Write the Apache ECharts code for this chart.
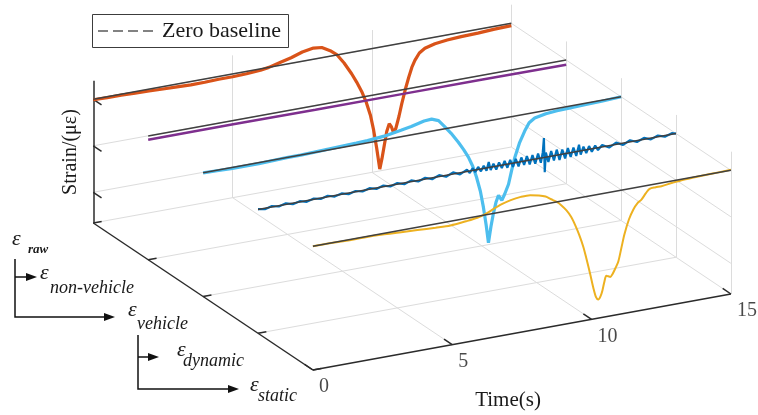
<!DOCTYPE html>
<html>
<head>
<meta charset="utf-8">
<script src="https://cdn.jsdelivr.net/npm/echarts@6/dist/echarts.min.js"></script>
<style>html,body{margin:0;padding:0;background:#fff}#c{width:758px;height:415px}</style>
</head>
<body>
<div id="c"></div>
<script>
// ---------------- data ----------------
const depthKeys = ['raw', 'non-vehicle', 'vehicle', 'dynamic', 'static'];
const timeTicks = [0, 5, 10, 15];
const strainTicks = [-100, -50, 0];
const timeRange = [0, 15];
const strainRange = [-133, 20];

// [time (s), strain (με)]
const rawStrain = [[0,-0.5],[0.5,-1],[1,-1],[1.5,-1.5],[2,-2],[2.5,-2.5],[3,-3],[3.5,-3.5],[4,-3.5],[4.5,-3],[5,-3],[5.5,-2.5],[6,-1.5],[6.3,0],[6.7,3],[7.1,6],[7.5,10],[7.9,12],[8.2,11],[8.5,6],[8.75,0],[9.0,-10],[9.27,-23],[9.45,-33],[9.63,-44],[9.8,-57],[9.95,-72],[10.06,-88],[10.17,-108],[10.28,-131],[10.36,-120],[10.45,-105],[10.53,-92],[10.62,-84],[10.7,-88],[10.78,-95],[10.86,-90],[10.97,-78],[11.07,-65],[11.2,-50],[11.32,-38],[11.43,-28],[11.54,-21],[11.7,-14],[11.9,-10],[12.26,-7],[12.7,-5.5],[13.2,-4.5],[13.8,-4],[14.4,-3],[15,-2.5]];
const nonVehicleStrain = [[0,-4],[3,-4],[6,-4.5],[9,-4.5],[12,-4.5],[15,-5]];
const vehicleStrain = [[0,0],[0.5,-0.5],[1,-1],[1.5,-1],[2,-1],[2.5,-0.5],[3,0],[3.5,0],[4,0.5],[4.5,1],[5,1.5],[5.5,2],[5.9,2.5],[6.5,4],[7.1,7],[7.47,9],[7.93,12.5],[8.2,13],[8.45,10],[8.65,3],[8.9,-6],[9.16,-17],[9.35,-26],[9.52,-35],[9.68,-46],[9.81,-58],[9.95,-74],[10.06,-92],[10.16,-112],[10.24,-131],[10.33,-114],[10.42,-100],[10.51,-89],[10.6,-82],[10.66,-85],[10.72,-88],[10.82,-82],[10.96,-72],[11.07,-58],[11.18,-45],[11.35,-30],[11.54,-18],[11.7,-10],[11.9,-6],[12.3,-3.5],[12.7,-2.5],[13.13,-2],[13.7,-1.5],[14.3,-1],[15,0]];
const dynamicStrain = [[0,0.5],[0.25,-1],[0.5,1],[0.75,-0.8],[1,1.2],[1.25,-1],[1.5,0.8],[1.75,-1.2],[2,1],[2.25,-0.8],[2.5,1.2],[2.75,-1],[3,1],[3.25,-1.2],[3.5,0.9],[3.75,-1],[4,1.2],[4.25,-1],[4.5,1.3],[4.75,-1.1],[5,1.2],[5.25,-1.3],[5.5,1.4],[5.75,-1.2],[6,1.5],[6.25,-1.4],[6.5,1.6],[6.75,-1.5],[7,1.8],[7.25,-1.7],[7.5,2],[7.6,-2],[7.7,2.5],[7.8,-2.2],[7.9,2.8],[8.0,-2.5],[8.1,3],[8.2,-2.8],[8.28,6],[8.35,-3],[8.45,3.2],[8.55,-3.5],[8.65,3.5],[8.75,-3],[8.85,4],[8.95,-3.8],[9.05,4],[9.15,-4],[9.25,4.2],[9.35,-4.5],[9.45,4.5],[9.55,-4],[9.65,5],[9.75,-4.5],[9.85,5],[9.95,-5],[10.05,5.5],[10.15,-5],[10.22,6],[10.26,21],[10.29,-16],[10.33,5],[10.42,-5.5],[10.52,5.5],[10.62,-5],[10.72,6],[10.82,-5.5],[10.92,5],[11.02,-5],[11.12,5.5],[11.22,-4.5],[11.32,5],[11.42,-4.5],[11.52,7],[11.58,-4],[11.68,4],[11.78,-3.5],[11.88,3.5],[11.98,-3],[12.1,3],[12.2,-2.5],[12.35,2.2],[12.6,-2],[12.85,2],[13.1,-1.8],[13.35,1.8],[13.6,-1.5],[13.85,1.6],[14.1,-1.4],[14.35,1.4],[14.6,-1.2],[14.85,1.2],[15,0]];
const staticStrain = [[0,0],[0.6,0],[1.2,-0.5],[1.8,-0.5],[2.5,-1],[3.1,-2],[3.75,-3],[4.4,-4],[4.94,-4.5],[5.5,-3],[5.9,-1.5],[6.2,1],[6.5,5],[6.74,8],[7.1,11],[7.46,12.5],[7.8,12.5],[8.11,10.5],[8.35,8],[8.55,4],[8.75,0],[8.9,-4],[9.1,-11],[9.27,-19],[9.42,-29],[9.56,-40],[9.7,-53],[9.81,-66],[9.95,-84],[10.06,-99],[10.16,-110],[10.24,-113],[10.32,-110],[10.39,-104],[10.46,-95],[10.53,-89],[10.6,-90],[10.67,-91],[10.74,-89],[10.85,-83],[10.96,-76],[11.07,-62],[11.18,-48],[11.34,-33],[11.5,-23],[11.65,-17],[11.79,-14],[11.95,-8],[12.08,-4],[12.3,-3.5],[12.51,-3.5],[12.9,-2],[13.23,-1],[13.7,-0.5],[14.3,0],[15,0.5]];
const zeroBaseline = [[0,0],[15,0]];

// ---------------- projection of the oblique 3-D box ----------------
const BOX = { origin: [93.3, 223], tStep: [418 / 15, -76 / 15], kStep: [54.9, 36.75], zPx: 142.3 };
function proj(t, k, s) {
  const zf = (s - strainRange[0]) / (strainRange[1] - strainRange[0]);
  return [BOX.origin[0] + t * BOX.tStep[0] + k * BOX.kStep[0],
          BOX.origin[1] + t * BOX.tStep[1] + k * BOX.kStep[1] - zf * BOX.zPx];
}

const SERIF = '"Liberation Serif", "Times New Roman", serif';
const TEXT = '#1a1a1a';
const palette = ['#D95319', '#7E2F8E', '#4DBEEE', '#0072BD', '#EDB120'];
const curves = [rawStrain, nonVehicleStrain, vehicleStrain, dynamicStrain, staticStrain];
const widths = [3.2, 2.5, 3.2, 2.2, 2];

const zMin = strainRange[0], zMax = strainRange[1];
const tMax = timeRange[1];
const nK = depthKeys.length - 1;

// grid segments
const gridSeg = [];
const seg = (a, b) => gridSeg.push({ coords: [a, b] });
timeTicks.filter(t => t > 0).forEach(t => {
  seg(proj(t, 0, zMin), proj(t, 0, zMax));          // back wall verticals
  seg(proj(t, 0, zMin), proj(t, nK, zMin));         // floor, along depth
});
strainTicks.forEach(s => {
  seg(proj(0, 0, s), proj(tMax, 0, s));             // back wall horizontals
  seg(proj(tMax, 0, s), proj(tMax, nK, s));         // right wall horizontals
});
depthKeys.forEach((d, k) => {
  if (k < nK) seg(proj(0, k, zMin), proj(tMax, k, zMin)); // floor, along time
  if (k > 0) seg(proj(tMax, k, zMin), proj(tMax, k, zMax)); // right wall verticals
});

const axisSeg = [
  { coords: [proj(0, 0, zMin), proj(0, 0, zMax)] },
  { coords: [proj(0, 0, zMin), proj(0, nK, zMin)] },
  { coords: [proj(0, nK, zMin), proj(tMax, nK, zMin)] }
];
strainTicks.forEach(s => axisSeg.push({ coords: [proj(0, 0, s), proj(0, 0.15, s)] }));
depthKeys.forEach((d, k) => axisSeg.push({ coords: [proj(0, k, zMin), proj(0.3, k, zMin)] }));
timeTicks.forEach(t => axisSeg.push({ coords: [proj(t, nK, zMin), proj(t, nK - 0.15, zMin)] }));

const series = [
  { type: 'lines', coordinateSystem: 'cartesian2d', silent: true, z: 1, data: gridSeg,
    lineStyle: { color: '#dcdcdc', width: 1, opacity: 1 } },
  { type: 'lines', coordinateSystem: 'cartesian2d', silent: true, z: 2, data: axisSeg,
    lineStyle: { color: '#2b2b2b', width: 1.5, opacity: 1 } }
];
curves.forEach((c, k) => {
  series.push({
    type: 'line', name: depthKeys[k], silent: true, z: 3 + k * 2, showSymbol: false,
    smooth: k === 4 ? 0.3 : false,
    data: c.map(p => proj(p[0], k, p[1])),
    lineStyle: { color: palette[k], width: widths[k] }
  });
  series.push({
    type: 'line', name: 'Zero baseline', silent: true, z: 4 + k * 2, showSymbol: false,
    data: zeroBaseline.map(p => proj(p[0], k, p[1])),
    lineStyle: { color: '#404040', width: 1.5 }
  });
});
series.push({
  type: 'scatter', silent: true, z: 20, symbolSize: 1, itemStyle: { color: 'rgba(0,0,0,0)' },
  data: timeTicks.map(t => ({ value: proj(t, nK, zMin), name: String(t) })),
  label: { show: true, position: 'inside', formatter: '{b}', align: 'left', verticalAlign: 'middle',
    offset: [6, 17], fontSize: 20, fontFamily: SERIF, color: TEXT }
});

// depth labels (hierarchy)
const epsPos = [[12, 239], [40, 273], [128, 310], [177, 350], [250, 385]];
const subPos = [[28, 250], [50, 288], [137, 324], [183, 361], [258, 396]];
const graphic = [];
depthKeys.forEach((d, i) => {
  graphic.push({ type: 'text', x: epsPos[i][0], y: epsPos[i][1], z: 10,
    style: { text: 'ε', font: 'italic 22px ' + SERIF, fill: TEXT, verticalAlign: 'middle' } });
  graphic.push({ type: 'text', x: subPos[i][0], y: subPos[i][1], z: 10,
    style: { text: d, font: i === 0 ? 'italic bold 13px ' + SERIF : 'italic 18px ' + SERIF,
      fill: TEXT, verticalAlign: 'middle' } });
});
const arrowLine = { stroke: '#111', lineWidth: 1.5, fill: null };
const head = (x, y) => ({ type: 'polygon', z: 10, shape: { points: [[x - 11, y - 4], [x, y], [x - 11, y + 4]] }, style: { fill: '#111' } });
graphic.push(
  { type: 'polyline', z: 10, shape: { points: [[15, 259], [15, 317], [105, 317]] }, style: arrowLine },
  head(115, 317),
  { type: 'polyline', z: 10, shape: { points: [[15, 277], [27, 277]] }, style: arrowLine },
  head(37, 277),
  { type: 'polyline', z: 10, shape: { points: [[138, 335], [138, 389], [229, 389]] }, style: arrowLine },
  head(239, 389),
  { type: 'polyline', z: 10, shape: { points: [[138, 357], [149, 357]] }, style: arrowLine },
  head(159, 357)
);
// legend box
graphic.push(
  { type: 'rect', z: 30, shape: { x: 92.5, y: 14.5, width: 196, height: 33 }, style: { fill: '#fff', stroke: '#3c3c3c', lineWidth: 1 } },
  { type: 'line', z: 31, shape: { x1: 98, y1: 31, x2: 158, y2: 31 }, style: { stroke: '#5a5a5a', lineWidth: 1.6, lineDash: [10, 5] } },
  { type: 'text', z: 31, x: 162, y: 31, style: { text: 'Zero baseline', font: '22px ' + SERIF, fill: TEXT, verticalAlign: 'middle' } },
  { type: 'text', z: 10, x: 71, y: 152, rotation: Math.PI / 2, style: { text: 'Strain/(με)', font: '20px ' + SERIF, fill: TEXT, align: 'center', verticalAlign: 'middle' } },
  { type: 'text', z: 10, x: 508, y: 400, style: { text: 'Time(s)', font: '21px ' + SERIF, fill: TEXT, align: 'center', verticalAlign: 'middle' } }
);

const chart = echarts.init(document.getElementById('c'), null, { renderer: 'canvas' });
chart.setOption({
  animation: false,
  backgroundColor: '#fff',
  grid: { left: 0, right: 0, top: 0, bottom: 0 },
  xAxis: { type: 'value', min: 0, max: 758, show: false },
  yAxis: { type: 'value', min: 0, max: 415, inverse: true, show: false },
  series: series,
  graphic: graphic
});
</script>
</body>
</html>
